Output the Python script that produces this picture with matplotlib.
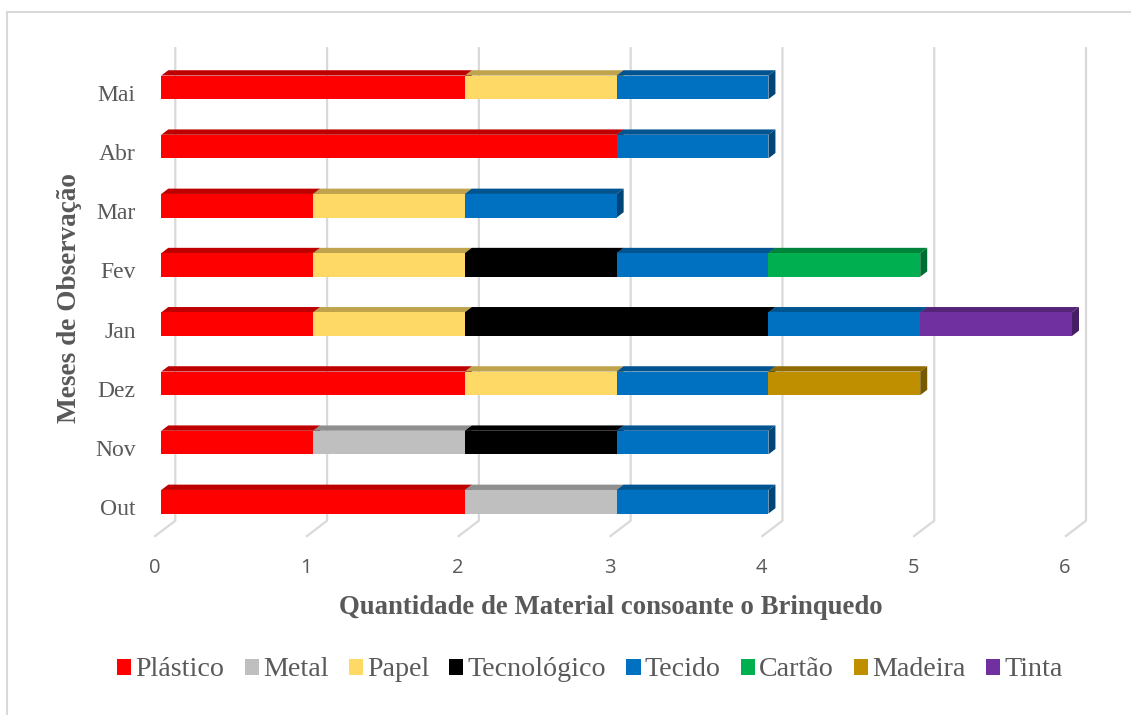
import numpy as np
import matplotlib
matplotlib.use("Agg")
import matplotlib.pyplot as plt
from matplotlib.patches import Polygon, Rectangle
import matplotlib.colors as mcolors

# ---------------- data ----------------
months = ["Out", "Nov", "Dez", "Jan", "Fev", "Mar", "Abr", "Mai"]
materials = ["Plástico", "Metal", "Papel", "Tecnológico", "Tecido", "Cartão", "Madeira", "Tinta"]
plastico    = [2, 1, 2, 1, 1, 1, 3, 2]
metal       = [1, 1, 0, 0, 0, 0, 0, 0]
papel       = [0, 0, 1, 1, 1, 1, 0, 1]
tecnologico = [0, 1, 0, 2, 1, 0, 0, 0]
tecido      = [1, 1, 1, 1, 1, 1, 1, 1]
cartao      = [0, 0, 0, 0, 1, 0, 0, 0]
madeira     = [0, 0, 1, 0, 0, 0, 0, 0]
tinta       = [0, 0, 0, 1, 0, 0, 0, 0]
x_ticks = [0, 1, 2, 3, 4, 5, 6]

series = [plastico, metal, papel, tecnologico, tecido, cartao, madeira, tinta]
colors = ["#FF0000", "#BFBFBF", "#FFD966", "#000000", "#0070C0", "#00B050", "#BF8F00", "#7030A0"]

# ---------------- styling ----------------
W, H = 1131, 715
fig = plt.figure(figsize=(W / 100, H / 100), dpi=100)
TXT = "#595959"
GRID = "#D9D9D9"
SERIF = ["Liberation Serif", "DejaVu Serif"]

# front plane of the 3-D box (pixels measured on reference)
x0_px, x6_px = 154.3, 1065.0
yb_px, yt_px = 536.7, 536.7 - 8 * 59.2
ax = fig.add_axes([x0_px / W, 1 - yb_px / H, (x6_px - x0_px) / W, (yb_px - yt_px) / H])
ax.set_xlim(0, 6)
ax.set_ylim(-0.5, 7.5)
for s in ax.spines.values():
    s.set_visible(False)

unit_x = (x6_px - x0_px) / 6.0
unit_y = 59.2
DX = 21.0 / unit_x      # full depth in value units
DY = 16.0 / unit_y      # full depth in category units

# gridlines on back wall plus floor slant
for v in x_ticks:
    ax.plot([v, v + DX, v + DX], [-0.5, -0.5 + DY, 7.5 + DY], color=GRID, lw=1.6,
            clip_on=False, zorder=1, solid_capstyle="butt")

# bars
bh = 23.6 / unit_y
fdx, fdy = DX / 3, DY / 3          # front face offset
bdx, bdy = DX / 3, DY / 3          # bar depth


def shade(c, f):
    r, g, b = mcolors.to_rgb(c)
    return (r * f, g * f, b * f)


y = np.arange(len(months))
left = np.zeros(len(months))
z = 3
for vals, col in zip(series, colors):
    vals = np.array(vals, dtype=float)
    for i in range(len(months)):
        if vals[i] <= 0:
            continue
        l = left[i] + fdx
        r = l + vals[i]
        yb = y[i] + fdy - bh / 2
        yt = y[i] + fdy + bh / 2
        top = Polygon([(l, yt), (r, yt), (r + bdx, yt + bdy), (l + bdx, yt + bdy)],
                      closed=True, facecolor=shade(col, 0.75), edgecolor="none", zorder=z,
                      clip_on=False)
        side = Polygon([(r, yb), (r + bdx, yb + bdy), (r + bdx, yt + bdy), (r, yt)],
                       closed=True, facecolor=shade(col, 0.62), edgecolor="none", zorder=z,
                       clip_on=False)
        ax.add_patch(top)
        ax.add_patch(side)
        bars = ax.barh(y[i] + fdy, vals[i], height=bh, left=l, align="center", color=col,
                       edgecolor="none", zorder=z + 0.5)
        for b in bars:
            b.set_clip_on(False)
        z += 1
    left += vals

# ticks
ax.set_yticks(y)
ax.set_yticklabels(months, fontfamily=SERIF, fontsize=17, color=TXT)
ax.tick_params(axis="y", length=0, pad=13.5)
ax.set_xticks(x_ticks)
ax.set_xticklabels([str(v) for v in x_ticks], fontfamily=["Open Sans", "DejaVu Sans"],
                   fontsize=14.5, color=TXT)
ax.tick_params(axis="x", length=0, pad=15)

# axis titles
fig.text(611 / W, 1 - 607 / H, "Quantidade de Material consoante o Brinquedo",
         ha="center", va="center", fontfamily=SERIF, fontweight="bold", fontsize=19.3, color=TXT)
fig.text(70 / W, 1 - 298 / H, "Meses de Observação", rotation=90,
         ha="center", va="center", fontfamily=SERIF, fontweight="bold", fontsize=19.6, color=TXT)

# legend
handles = [Rectangle((0, 0), 1, 1, facecolor=c, edgecolor="none") for c in colors]
leg = fig.legend(handles, materials, loc="center", bbox_to_anchor=(590 / W, 1 - 670 / H),
                 ncol=8, frameon=False, prop={"family": SERIF, "size": 20.2},
                 handlelength=0.5, handleheight=0.5, handletextpad=0.15, columnspacing=0.72)
for t in leg.get_texts():
    t.set_color(TXT)

# chart border
fig.patches.append(Rectangle((7 / W, -0.1), 1.2, 1 - 12 / H + 0.1, transform=fig.transFigure,
                             fill=False, edgecolor=GRID, lw=1.5, figure=fig))

fig.savefig("out.png", dpi=100)
